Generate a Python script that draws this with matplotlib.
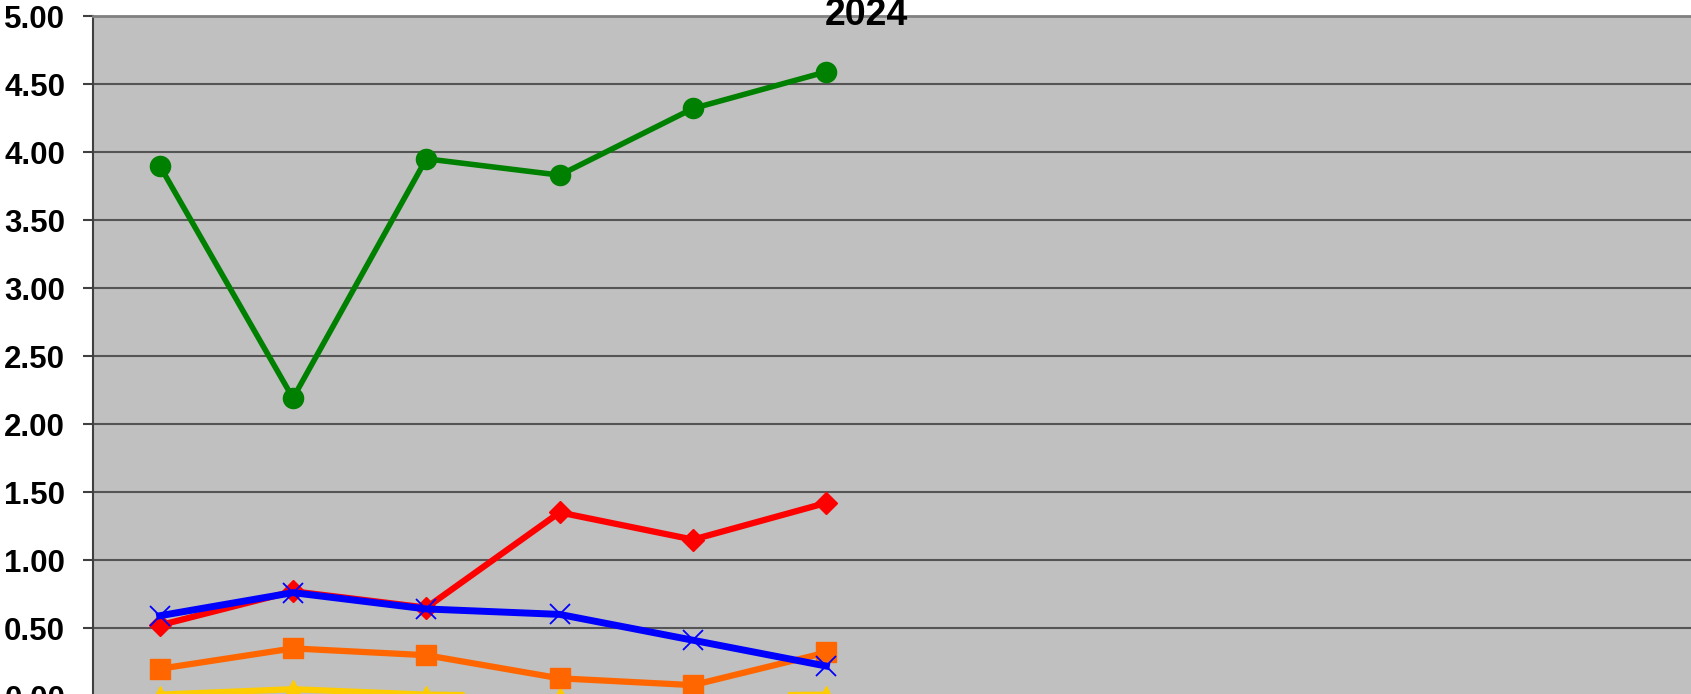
import numpy as np
import matplotlib
matplotlib.use("Agg")
import matplotlib.pyplot as plt

# monthly values (only first six months filled)
months = ["Jan", "Feb", "Mar", "Apr", "May", "Jun",
          "Jul", "Aug", "Sep", "Oct", "Nov", "Dec"]
green_vals  = [3.90, 2.19, 3.95, 3.83, 4.32, 4.59]
red_vals    = [0.52, 0.77, 0.65, 1.35, 1.15, 1.42]
blue_vals   = [0.59, 0.76, 0.64, 0.60, 0.41, 0.22]
orange_vals = [0.20, 0.35, 0.30, 0.13, 0.08, 0.32]
yellow_vals = [0.01, 0.05, 0.01, 0.00, 0.00, 0.01]
y_ticks = [0.0, 0.5, 1.0, 1.5, 2.0, 2.5, 3.0, 3.5, 4.0, 4.5, 5.0]
title = "2024"

plt.rcParams["font.family"] = ["Liberation Sans", "DejaVu Sans"]

W, H = 1691, 694
fig = plt.figure(figsize=(W / 100, H / 100), dpi=100)
# plot area runs past the right and bottom edge of the picture
ax = fig.add_axes([93 / W, (H - 696) / H, 1600 / W, 680 / H])
ax.set_facecolor("#C0C0C0")

x = np.arange(len(months))
ax.plot(x[:len(yellow_vals)], yellow_vals, color="#FFCC00", lw=4.5,
        marker="^", ms=13, zorder=3)
ax.plot(x[:len(orange_vals)], orange_vals, color="#FF6600", lw=4.5,
        marker="s", ms=14, zorder=4)
ax.plot(x[:len(green_vals)], green_vals, color="#008000", lw=4,
        marker="o", ms=14.5, zorder=5)
ax.plot(x[:len(red_vals)], red_vals, color="#FF0000", lw=4.5,
        marker="D", ms=11, zorder=6)
ax.plot(x[:len(blue_vals)], blue_vals, color="#0000FF", lw=5,
        marker="x", ms=14, mew=1.3, zorder=7)

ax.set_xlim(-0.5, len(months) - 0.5)
ax.set_ylim(0, 5)
ax.set_xticks([])
ax.set_yticks(y_ticks)
ax.set_yticklabels([f"{v:.2f}" for v in y_ticks],
                   fontsize=22.5, fontweight="bold")
ax.tick_params(axis="y", length=7, width=1.5, color="#404040", pad=13)
ax.grid(axis="y", color="#555555", lw=1.5)
ax.set_axisbelow(True)

ax.spines["left"].set_color("#404040")
ax.spines["left"].set_linewidth(1.5)
ax.spines["top"].set_color("#808080")
ax.spines["top"].set_linewidth(2)
ax.spines["right"].set_visible(False)
ax.spines["bottom"].set_visible(False)

fig.text(866 / W, (H - 25) / H, title, ha="center", va="baseline",
         fontsize=27, fontweight="bold")

fig.savefig("out.png", dpi=100)
